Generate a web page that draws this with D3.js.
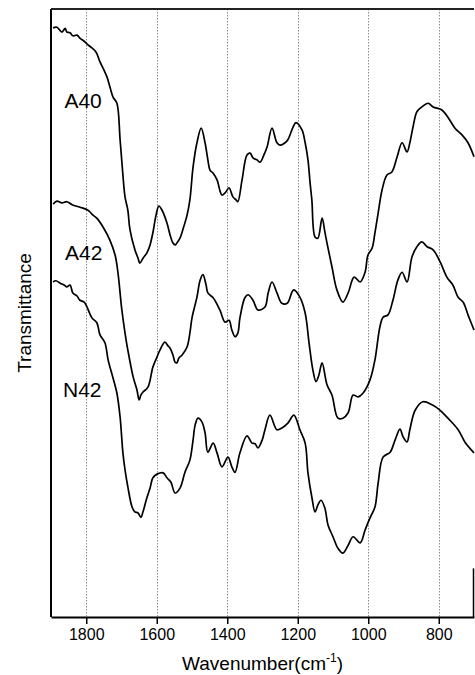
<!DOCTYPE html>
<html>
<head>
<meta charset="utf-8">
<script src="https://cdn.jsdelivr.net/npm/d3@7"></script>
<style>
  html, body { margin: 0; padding: 0; background: #fff; }
  svg { display: block; font-family: "Liberation Sans", Arial, Helvetica, sans-serif; }
</style>
</head>
<body>
<svg id="chart" width="475" height="675"></svg>
<script>
// FTIR transmittance spectra (arbitrary, vertically offset units)
const xTicks = [1800, 1600, 1400, 1200, 1000, 800];
const seriesNames = ["A40", "A42", "N42"];

const wavenumberA40 = [1894,1883,1869,1860,1855,1846,1838,1826,1818,1806,1795,1784,1772,1761,1750,1741,1733,1724,1713,1704,1696,1690,1682,1676,1662,1653,1648,1639,1628,1619,1611,1602,1594,1585,1571,1562,1554,1548,1543,1534,1526,1514,1506,1497,1486,1474,1463,1455,1449,1440,1429,1415,1404,1395,1384,1375,1370,1358,1344,1335,1327,1316,1307,1296,1287,1273,1259,1250,1236,1228,1213,1205,1188,1179,1171,1165,1160,1151,1143,1131,1123,1117,1103,1089,1072,1057,1040,1023,1009,1001,989,981,972,961,947,933,918,904,890,882,873,862,848,830,816,791,774,754,734,717,700];
const transA40 = [96.9,97.0,96.2,96.8,96.2,96.1,95.6,95.7,95.2,94.7,94.1,93.6,92.9,91.3,90.0,88.8,87.2,85.5,84.5,78.5,72.7,69.1,66.9,63.7,60.4,59.0,58.2,59.0,59.9,61.2,63.2,66.1,67.6,66.9,64.8,62.8,61.5,61.2,61.5,62.3,63.7,66.1,68.6,74.0,78.0,80.4,78.0,75.2,73.5,73.0,71.9,69.4,69.9,70.6,69.1,68.6,68.3,71.9,76.0,76.3,75.5,75.2,74.8,76.0,77.3,80.4,78.0,77.6,78.0,78.5,80.6,81.3,80.1,78.0,75.2,71.4,68.6,62.5,62.3,65.6,63.3,61.5,57.6,53.8,51.8,53.3,55.9,55.1,56.7,59.5,60.7,63.2,66.4,70.2,72.7,73.2,75.7,78.0,76.5,78.0,80.6,83.1,83.9,84.5,83.9,83.4,82.2,80.4,79.3,78.0,75.7];

const wavenumberA42 = [1894,1883,1869,1855,1840,1818,1795,1781,1770,1752,1733,1718,1710,1699,1690,1682,1667,1656,1650,1645,1639,1625,1611,1599,1591,1577,1568,1562,1554,1548,1543,1537,1528,1514,1506,1500,1486,1477,1469,1460,1455,1440,1421,1406,1395,1387,1378,1370,1364,1350,1341,1327,1313,1293,1284,1273,1259,1245,1230,1216,1211,1194,1179,1168,1157,1148,1140,1131,1117,1103,1086,1072,1057,1043,1029,1015,995,981,967,958,944,930,916,904,890,876,862,848,833,816,796,777,760,745,731,717,700];
const transA42 = [67.9,68.4,68.1,68.3,67.8,67.4,66.9,66.1,65.6,64.1,62.0,59.5,56.6,50.5,46.7,43.9,39.5,37.3,35.7,36.5,37.0,37.8,41.1,42.8,43.9,45.2,44.6,44.2,43.1,41.9,41.8,42.6,43.1,44.4,46.7,49.2,52.6,55.4,56.3,54.6,53.3,52.5,50.5,48.5,48.8,47.2,46.1,46.7,49.2,52.5,53.0,52.1,50.5,51.0,53.3,55.1,53.3,51.6,51.6,53.5,53.8,52.6,50.0,45.1,40.6,38.7,39.8,41.8,38.2,36.5,32.7,32.7,33.6,36.5,36.2,36.8,39.0,42.3,47.7,49.3,49.7,52.1,55.4,56.7,55.1,59.2,60.9,61.7,60.9,60.4,58.4,55.9,54.6,52.6,51.8,49.7,47.2];

const wavenumberN42 = [1894,1886,1874,1863,1855,1846,1838,1826,1818,1806,1798,1784,1770,1761,1747,1738,1724,1713,1704,1701,1696,1690,1682,1670,1662,1653,1645,1639,1628,1619,1611,1599,1582,1571,1560,1548,1534,1520,1506,1497,1491,1483,1472,1463,1455,1440,1429,1415,1398,1387,1378,1364,1344,1330,1321,1313,1301,1293,1279,1259,1245,1228,1211,1194,1179,1171,1160,1151,1143,1134,1123,1114,1100,1086,1072,1057,1043,1023,1009,995,981,972,958,938,924,910,901,890,882,867,845,819,796,774,745,726,700];
const transN42 = [55.1,55.3,54.9,54.6,54.3,54.6,53.3,52.8,52.1,51.8,51.0,49.2,48.4,46.4,45.1,42.3,39.3,36.8,32.9,30.8,27.0,24.2,21.4,18.1,17.3,17.1,16.4,17.3,19.6,21.2,22.9,23.5,23.7,22.9,22.2,20.4,21.2,23.8,25.8,29.1,31.6,32.7,32.1,30.3,27.1,28.6,27.0,24.7,26.3,24.7,23.8,27.0,29.8,28.6,28.5,27.8,29.1,30.8,33.2,30.8,31.1,31.9,33.2,30.8,28.6,23.7,19.7,17.3,18.4,19.2,17.9,15.1,13.2,11.3,10.5,11.8,13.2,12.2,14.3,16.3,18.1,22.0,26.3,27.1,29.1,30.9,29.6,28.8,30.8,34.0,35.4,34.9,34.0,32.7,30.8,28.8,27.0];

// Curve label anchors (wavenumber, transmittance of text baseline)
const labelWavenumber = [1862, 1860, 1866];
const labelTrans = [83.7, 58.7, 36.2];

const series = [
  { name: seriesNames[0], w: wavenumberA40, t: transA40 },
  { name: seriesNames[1], w: wavenumberA42, t: transA42 },
  { name: seriesNames[2], w: wavenumberN42, t: transN42 }
];

const svg = d3.select("#chart");
const margin = { left: 51, right: 1, top: 9, bottom: 58 };
const W = 475, H = 675;
const x0 = margin.left, x1 = W - margin.right;
const y0 = H - margin.bottom, y1 = margin.top;

const x = d3.scaleLinear().domain([1900, 700]).range([x0, x1]);
const y = d3.scaleLinear().domain([0, 100]).range([y0, y1]);

// dotted vertical grid at each tick
svg.append("g")
  .selectAll("line")
  .data(xTicks)
  .join("line")
  .attr("x1", d => Math.round(x(d)) + 0.5)
  .attr("x2", d => Math.round(x(d)) + 0.5)
  .attr("y1", y1)
  .attr("y2", y0)
  .attr("stroke", "#8a8a8a")
  .attr("stroke-width", 1)
  .attr("stroke-dasharray", "1.5,1.5");

// spectra
const line = d3.line()
  .x(d => x(d[0]))
  .y(d => y(d[1]))
  .curve(d3.curveCatmullRom.alpha(0.5));

svg.append("g")
  .selectAll("path")
  .data(series)
  .join("path")
  .attr("d", s => line(d3.zip(s.w, s.t)))
  .attr("fill", "none")
  .attr("stroke", "#000")
  .attr("stroke-width", 1.7)
  .attr("stroke-linejoin", "round");

// curve labels
svg.append("g")
  .selectAll("text")
  .data(series)
  .join("text")
  .attr("x", (s, i) => x(labelWavenumber[i]))
  .attr("y", (s, i) => y(labelTrans[i]))
  .attr("font-size", 21)
  .attr("fill", "#000")
  .text(s => s.name);

// bottom axis
const xAxis = d3.axisBottom(x)
  .tickValues(xTicks)
  .tickSize(7)
  .tickSizeOuter(0)
  .tickPadding(5)
  .tickFormat(d3.format("d"));

const gx = svg.append("g")
  .attr("transform", `translate(0,${y0})`)
  .call(xAxis);
gx.select(".domain").attr("stroke", "#000").attr("stroke-width", 1.8);
gx.selectAll(".tick line").attr("stroke", "#000").attr("stroke-width", 1.5);
gx.selectAll(".tick text")
  .attr("font-size", 16)
  .attr("font-family", "'Liberation Sans', Arial, sans-serif")
  .attr("fill", "#000");

// left axis line (no ticks) and top frame
svg.append("line")
  .attr("x1", x0).attr("x2", x0)
  .attr("y1", y1).attr("y2", y0)
  .attr("stroke", "#000").attr("stroke-width", 2);
svg.append("line")
  .attr("x1", x0).attr("x2", x1)
  .attr("y1", y1).attr("y2", y1)
  .attr("stroke", "#222").attr("stroke-width", 2);
// right frame edge, lower part
svg.append("line")
  .attr("x1", x1 - 0.5).attr("x2", x1 - 0.5)
  .attr("y1", y(8)).attr("y2", y0)
  .attr("stroke", "#000").attr("stroke-width", 1.5);

// axis titles
const xTitle = svg.append("text")
  .attr("x", (x0 + x1) / 2)
  .attr("y", 670)
  .attr("text-anchor", "middle")
  .attr("font-size", 19)
  .attr("fill", "#000");
xTitle.append("tspan").text("Wavenumber(cm");
xTitle.append("tspan").attr("font-size", 12).attr("dy", -8).text("-1");
xTitle.append("tspan").attr("dy", 8).text(")");

svg.append("text")
  .attr("transform", `translate(31,${(y0 + y1) / 2}) rotate(-90)`)
  .attr("text-anchor", "middle")
  .attr("font-size", 19)
  .attr("fill", "#000")
  .text("Transmittance");
</script>
</body>
</html>
